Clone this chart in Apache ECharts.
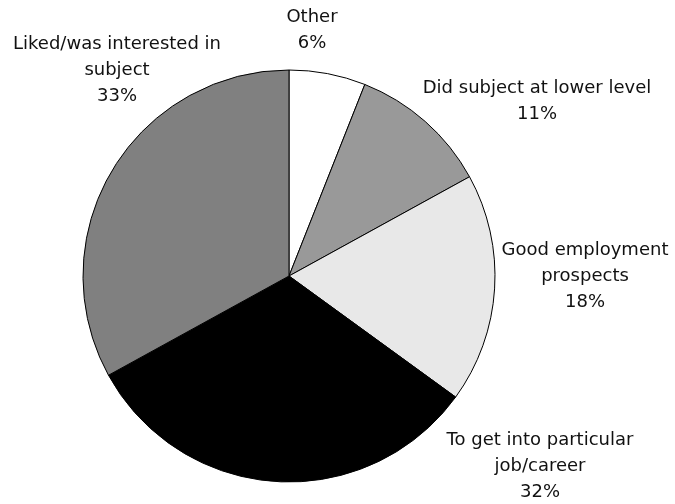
<!DOCTYPE html>
<html>
<head>
<meta charset="utf-8">
<script src="https://cdn.jsdelivr.net/npm/echarts@6/dist/echarts.min.js"></script>
<style>
  html, body { margin: 0; padding: 0; background: #fff; }
  #chart { width: 675px; height: 504px; }
</style>
</head>
<body>
<div id="chart"></div>
<script>
// reasons for choosing subject, clockwise from 12 o'clock
var categories = [
  'Other',
  'Did subject at lower level',
  'Good employment\nprospects',
  'To get into particular\njob/career',
  'Liked/was interested in\nsubject'
];
var shares = [6, 11, 18, 32, 33];
var sliceColors = ['#ffffff', '#999999', '#e8e8e8', '#000000', '#808080'];

// where the data labels sit (label centre, px)
var labelSpots = [
  [312, 30],
  [537, 101],
  [585, 276],
  [540, 466],
  [117, 70]
];

var chart = echarts.init(document.getElementById('chart'));
chart.setOption({
  animation: false,
  series: [{
    type: 'pie',
    center: [289, 276],
    radius: 206,
    startAngle: 90,
    clockwise: true,
    avoidLabelOverlap: false,
    itemStyle: {borderColor: '#000', borderWidth: 1},
    emphasis: {disabled: true},
    label: {
      show: true,
      position: 'outside',
      formatter: '{b}\n{c}%',
      fontFamily: 'DejaVu Sans',
      fontSize: 18,
      lineHeight: 26,
      color: '#111',
      align: 'center'
    },
    labelLine: {show: false},
    labelLayout: function(params) {
      var p = labelSpots[params.dataIndex];
      return {x: p[0], y: p[1], align: 'center', verticalAlign: 'middle'};
    },
    data: categories.map(function(name, i) {
      return {name: name, value: shares[i], itemStyle: {color: sliceColors[i]}};
    })
  }]
});
</script>
</body>
</html>
